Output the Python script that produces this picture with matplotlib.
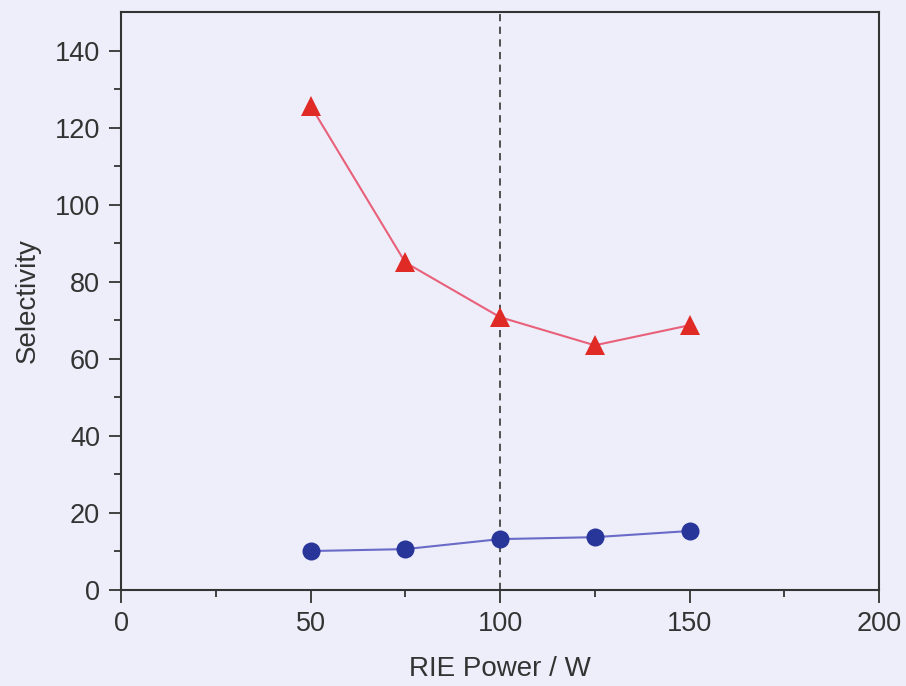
import matplotlib
matplotlib.use("Agg")
import matplotlib.pyplot as plt
from matplotlib.ticker import MultipleLocator, FixedLocator

plt.rcParams['font.family'] = ['Liberation Sans', 'DejaVu Sans']

# data
power = [50, 75, 100, 125, 150]
sel_high = [125.7, 85.0, 70.8, 63.5, 68.7]
sel_low = [10.1, 10.6, 13.2, 13.7, 15.3]
x_ticks = [0, 50, 100, 150, 200]
y_ticks = [0, 20, 40, 60, 80, 100, 120, 140]
y_minor = [10, 30, 50, 70, 90, 110, 130]
marker_line = 100

bg = '#eeeefa'
fig = plt.figure(figsize=(9.06, 6.86), dpi=100, facecolor=bg)
ax = fig.add_axes([0.1336, 0.140, 0.8366, 0.8425], facecolor=bg)

ax.axvline(marker_line, color='#444444', linestyle=(0, (4, 3)), linewidth=1.3, zorder=1)

ax.plot(power, sel_high, color='#e8607a', linewidth=1.5, zorder=2)
ax.plot(power, sel_high, linestyle='none', marker='^', markersize=14,
        color='#e02a25', markeredgewidth=0, zorder=3)
ax.plot(power, sel_low, color='#6a6ac8', linewidth=1.5, zorder=2)
ax.plot(power, sel_low, linestyle='none', marker='o', markersize=13,
        color='#28369a', markeredgewidth=0, zorder=3)

ax.set_xlim(0, 200)
ax.set_ylim(0, 150)
ax.set_xticks(x_ticks)
ax.set_yticks(y_ticks)
ax.xaxis.set_minor_locator(MultipleLocator(25))
ax.yaxis.set_minor_locator(FixedLocator(y_minor))
ax.tick_params(which='major', direction='out', length=9, width=1.3,
               labelsize=19.5, colors='#333333', pad=6)
ax.tick_params(which='minor', direction='out', length=5, width=1.3, colors='#333333')
for s in ax.spines.values():
    s.set_color('#333333')
    s.set_linewidth(1.5)

ax.set_xlabel('RIE Power / W', fontsize=20, color='#333333', labelpad=14)
ax.set_ylabel('Selectivity', fontsize=20, color='#333333', labelpad=10)

fig.savefig('out.png', dpi=100, facecolor=bg)
